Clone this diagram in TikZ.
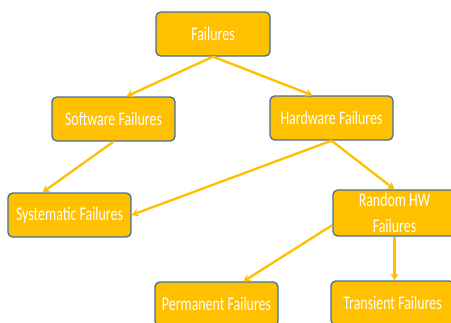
\documentclass[tikz,border=0pt]{standalone}
\usepackage{fontspec}
\usepackage{tikz}
\usetikzlibrary{arrows.meta,positioning}
\newfontfamily\boxfont[FakeStretch=0.72]{Carlito}
\definecolor{boxgold}{HTML}{FFC000}
\definecolor{boxedge}{HTML}{41719C}

\begin{document}
\begin{tikzpicture}[
  x=0.03cm, y=-0.03cm,
  kind/.style={
    rectangle, rounded corners=4pt,
    minimum width=3.69cm, minimum height=1.32cm,
    text centered, draw=boxedge, line width=1.1pt,
    fill=boxgold, text=white, inner sep=0pt,
    font=\boxfont\fontsize{16.5}{22}\selectfont
  },
  arrow/.style={-{Stealth[length=6pt,width=7pt]}, line width=2pt, draw=boxgold}
]
\useasboundingbox (0,0) rectangle (451,322);
% Top
\node[kind, minimum width=3.42cm] (failures) at (213,34) {Failures};
% Second row
\node[kind] (software) at (113.5,119) {Software Failures};
\node[kind] (hardware) at (331.5,118) {Hardware Failures};
% Third row
\node[kind] (systematic) at (69.5,215) {Systematic Failures};
\node[kind, minimum height=1.38cm, align=center] (random) at (394.5,213) {Random HW\\Failures};
% Bottom row
\node[kind] (permanent) at (216.5,304) {Permanent Failures};
\node[kind] (transient) at (392.5,303) {Transient Failures};
% Arrows
\draw[arrow] (failures.south) -- (software.60);
\draw[arrow] (failures.south) -- (hardware.130);
\draw[arrow] (software.south) -- (systematic.140);
\draw[arrow] (hardware.south) -- (systematic.east);
\draw[arrow] (hardware.south) -- (random.north);
\draw[arrow] (random.191)     -- (permanent.40);
\draw[arrow] (random.south)   -- (random.south |- transient.north);
\end{tikzpicture}
\end{document}
